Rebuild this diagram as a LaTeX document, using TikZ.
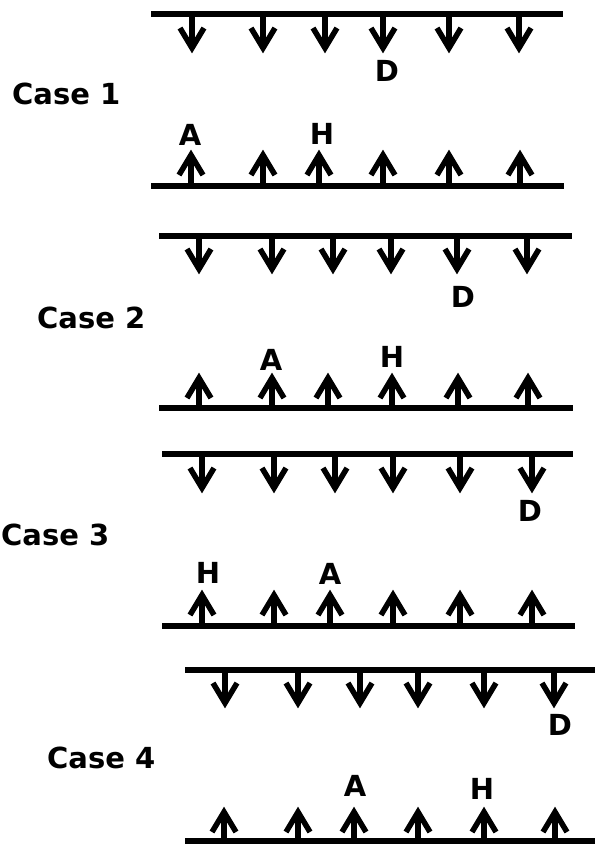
\documentclass[tikz,border=0pt]{standalone}
\usepackage{fontspec}
\setmainfont{DejaVu Sans}
\usetikzlibrary{calc}
\tikzset{
  beam/.style={line width=5.5pt},
  force/.style={line width=5.5pt},
  head/.style={line width=5.5pt, miter limit=10},
  lbl/.style={font=\bfseries\fontsize{29}{31}\selectfont, inner sep=0pt},
  caselbl/.style={font=\bfseries\fontsize{29}{31}\selectfont, inner sep=0pt, anchor=base west}
}
% down force: name, x, y of beam, y of apex
\newcommand\dforce[4]{%
  \coordinate (#1b) at (#2,#3);
  \coordinate (#1t) at (#2,#4);
  \draw[force] (#1b) -- (#1t);
  \draw[head] ($(#1t)+(-12,-20)$) -- (#1t) -- ($(#1t)+(12,-20)$);
}
% up force: name, x, y of beam, y of apex
\newcommand\uforce[4]{%
  \coordinate (#1b) at (#2,#3);
  \coordinate (#1t) at (#2,#4);
  \draw[force] (#1b) -- (#1t);
  \draw[head] ($(#1t)+(-12,20)$) -- (#1t) -- ($(#1t)+(12,20)$);
}
\begin{document}
\begin{tikzpicture}[x=1pt,y=-1pt]
\useasboundingbox (0,0) rectangle (595,844);
% ---------- Case 1
\node[caselbl] (c1) at (12,104) {Case 1};
\coordinate (t1l) at (151,14); \coordinate (t1r) at (563,14);
\draw[beam] (t1l) -- (t1r);
\foreach \x [count=\i] in {192,263,325,383,449,519} {\dforce{a1d\i}{\x}{14}{48}}
\node[lbl] (D1) at (387,71) {D};
\node[lbl] (A1) at (190,135) {A};
\node[lbl] (H1) at (322,134) {H};
\foreach \x [count=\i] in {191,263,319,383,449,520} {\uforce{a1u\i}{\x}{186}{155}}
\coordinate (b1l) at (151,186); \coordinate (b1r) at (564,186);
\draw[beam] (b1l) -- (b1r);
% ---------- Case 2
\node[caselbl] (c2) at (37,328) {Case 2};
\coordinate (t2l) at (159,236); \coordinate (t2r) at (572,236);
\draw[beam] (t2l) -- (t2r);
\foreach \x [count=\i] in {199,272,333,391,457,527} {\dforce{a2d\i}{\x}{236}{269}}
\node[lbl] (D2) at (463,297) {D};
\node[lbl] (A2) at (271,360) {A};
\node[lbl] (H2) at (392,357) {H};
\foreach \x [count=\i] in {199,272,328,392,458,528} {\uforce{a2u\i}{\x}{408}{378}}
\coordinate (b2l) at (159,408); \coordinate (b2r) at (573,408);
\draw[beam] (b2l) -- (b2r);
% ---------- Case 3
\node[caselbl] (c3) at (1,545) {Case 3};
\coordinate (t3l) at (162,454); \coordinate (t3r) at (573,454);
\draw[beam] (t3l) -- (t3r);
\foreach \x [count=\i] in {202,274,335,393,460,532} {\dforce{a3d\i}{\x}{454}{488}}
\node[lbl] (D3) at (530,511) {D};
\node[lbl] (H3) at (208,573) {H};
\node[lbl] (A3) at (330,574) {A};
\foreach \x [count=\i] in {202,274,330,393,460,532} {\uforce{a3u\i}{\x}{626}{595}}
\coordinate (b3l) at (162,626); \coordinate (b3r) at (575,626);
\draw[beam] (b3l) -- (b3r);
% ---------- Case 4
\node[caselbl] (c4) at (47,768) {Case 4};
\coordinate (t4l) at (185,670); \coordinate (t4r) at (595,670);
\draw[beam] (t4l) -- (t4r);
\foreach \x [count=\i] in {225,298,360,418,484,554} {\dforce{a4d\i}{\x}{670}{703}}
\node[lbl] (D4) at (560,725) {D};
\node[lbl] (A4) at (355,786) {A};
\node[lbl] (H4) at (482,789) {H};
\foreach \x [count=\i] in {224,298,354,418,484,555} {\uforce{a4u\i}{\x}{842}{812}}
\coordinate (b4l) at (185,841); \coordinate (b4r) at (595,841);
\draw[beam] (b4l) -- (b4r);
\end{tikzpicture}
\end{document}
